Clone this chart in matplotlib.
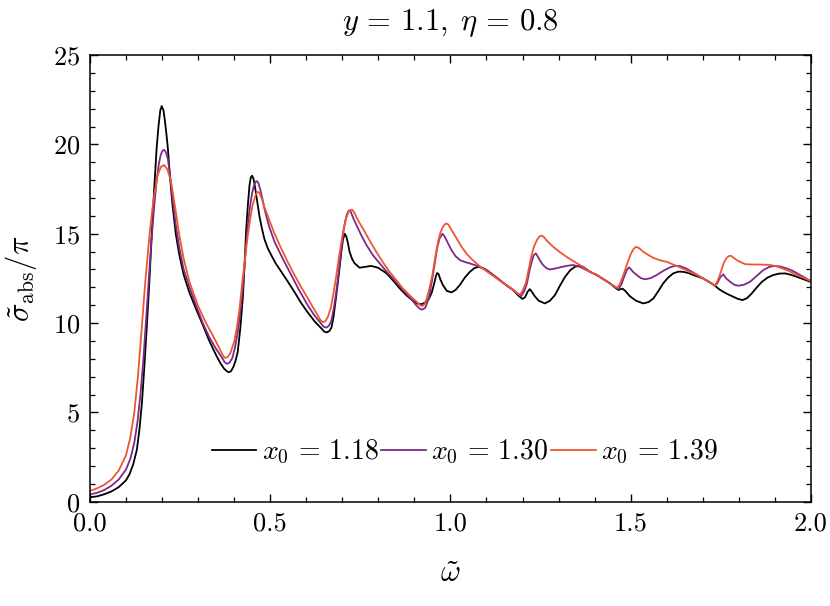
import matplotlib
matplotlib.use("Agg")
import matplotlib.pyplot as plt
from matplotlib.ticker import MultipleLocator, FormatStrFormatter

# ---------------- data: (omega, sigma/pi) ----------------
pts_118 = [(0.0, 0.25), (0.02, 0.3), (0.04, 0.42), (0.06, 0.58), (0.08, 0.82), (0.1, 1.2),
           (0.11, 1.55), (0.12, 2.1), (0.13, 2.9), (0.137, 4.0), (0.144, 5.5), (0.151, 7.6),
           (0.158, 9.9), (0.165, 12.4), (0.172, 15.2), (0.179, 17.8), (0.185, 19.8), (0.19, 21.0),
           (0.195, 21.9), (0.199, 22.15), (0.204, 21.9), (0.208, 21.3), (0.212, 20.6), (0.216, 19.8),
           (0.222, 18.2), (0.229, 16.6), (0.238, 15.0), (0.248, 13.8), (0.26, 12.7), (0.276, 11.7),
           (0.295, 10.75), (0.313, 9.9), (0.33, 9.05), (0.35, 8.2), (0.362, 7.75), (0.372, 7.45),
           (0.38, 7.3), (0.385, 7.25), (0.391, 7.3), (0.398, 7.55), (0.404, 7.9), (0.41, 8.4),
           (0.417, 9.7), (0.424, 11.4), (0.429, 13.3), (0.433, 15.1), (0.438, 16.6), (0.4425, 17.7),
           (0.446, 18.15), (0.45, 18.25), (0.454, 18.05), (0.458, 17.6), (0.464, 16.8), (0.47, 16.0),
           (0.477, 15.3), (0.484, 14.7), (0.493, 14.2), (0.503, 13.8), (0.515, 13.35), (0.53, 12.9),
           (0.548, 12.35), (0.567, 11.75), (0.585, 11.15), (0.604, 10.6), (0.623, 10.1), (0.642, 9.7),
           (0.65, 9.52), (0.657, 9.48), (0.664, 9.55), (0.67, 9.75), (0.676, 10.4), (0.683, 11.5),
           (0.689, 12.5), (0.694, 13.4), (0.698, 14.1), (0.702, 14.7), (0.707, 15.0), (0.711, 14.85),
           (0.716, 14.45), (0.72, 14.0), (0.727, 13.6), (0.734, 13.35), (0.748, 13.1), (0.765, 13.15),
           (0.78, 13.2), (0.799, 13.1), (0.822, 12.8), (0.84, 12.4), (0.859, 11.95), (0.878, 11.55),
           (0.896, 11.25), (0.908, 11.1), (0.919, 11.05), (0.93, 11.15), (0.94, 11.35), (0.948, 11.7),
           (0.956, 12.3), (0.96, 12.65), (0.963, 12.8), (0.967, 12.75), (0.972, 12.45), (0.979, 12.13),
           (0.99, 11.8), (1.003, 11.72), (1.014, 11.85), (1.026, 12.13), (1.04, 12.55), (1.054, 12.87),
           (1.066, 13.07), (1.077, 13.15), (1.088, 13.1), (1.1, 12.97), (1.118, 12.7), (1.137, 12.4),
           (1.155, 12.12), (1.174, 11.85), (1.188, 11.55), (1.2, 11.35), (1.207, 11.45), (1.214, 11.75),
           (1.22, 11.9), (1.226, 11.75), (1.234, 11.5), (1.245, 11.25), (1.262, 11.1), (1.276, 11.25),
           (1.29, 11.57), (1.304, 12.1), (1.318, 12.59), (1.332, 12.95), (1.345, 13.15), (1.357, 13.2),
           (1.368, 13.15), (1.387, 12.87), (1.406, 12.69), (1.425, 12.45), (1.443, 12.22), (1.456, 12.0),
           (1.466, 11.85), (1.472, 11.9), (1.478, 11.92), (1.485, 11.8), (1.498, 11.5), (1.515, 11.25),
           (1.535, 11.1), (1.55, 11.18), (1.563, 11.38), (1.577, 11.8), (1.59, 12.22), (1.604, 12.55),
           (1.618, 12.78), (1.632, 12.88), (1.646, 12.87), (1.66, 12.8), (1.674, 12.69), (1.701, 12.5),
           (1.718, 12.3), (1.734, 12.09), (1.745, 11.9), (1.757, 11.75), (1.771, 11.6), (1.785, 11.47),
           (1.798, 11.35), (1.811, 11.29), (1.823, 11.4), (1.836, 11.66), (1.85, 12.0), (1.864, 12.31),
           (1.88, 12.55), (1.896, 12.69), (1.912, 12.77), (1.929, 12.78), (1.945, 12.7), (1.961, 12.59),
           (1.98, 12.45), (2.0, 12.3)]

pts_130 = [(0.0, 0.41), (0.02, 0.5), (0.04, 0.66), (0.06, 0.9), (0.08, 1.25), (0.1, 1.8),
           (0.112, 2.4), (0.123, 3.3), (0.132, 4.5), (0.14, 6.0), (0.148, 7.9), (0.155, 10.0),
           (0.163, 12.4), (0.17, 14.5), (0.178, 16.5), (0.185, 18.0), (0.191, 18.9), (0.196, 19.4),
           (0.201, 19.65), (0.206, 19.7), (0.211, 19.55), (0.216, 19.2), (0.222, 18.3), (0.229, 17.0),
           (0.238, 15.5), (0.248, 14.2), (0.26, 13.0), (0.276, 12.0), (0.295, 10.95), (0.313, 10.0),
           (0.33, 9.25), (0.35, 8.55), (0.365, 8.1), (0.374, 7.8), (0.38, 7.72), (0.387, 7.78),
           (0.395, 8.05), (0.402, 8.6), (0.41, 9.5), (0.417, 10.6), (0.424, 12.0), (0.43, 13.5),
           (0.435, 14.8), (0.44, 15.9), (0.446, 16.8), (0.45, 17.3), (0.455, 17.7), (0.459, 17.9),
           (0.463, 17.95), (0.467, 17.85), (0.472, 17.5), (0.478, 17.0), (0.484, 16.4), (0.497, 15.4),
           (0.512, 14.55), (0.535, 13.6), (0.558, 12.7), (0.58, 11.85), (0.604, 11.0), (0.622, 10.45),
           (0.64, 10.0), (0.648, 9.8), (0.656, 9.75), (0.663, 9.85), (0.67, 10.15), (0.677, 10.9),
           (0.685, 12.0), (0.692, 13.2), (0.698, 14.3), (0.703, 15.1), (0.708, 15.7), (0.713, 16.1),
           (0.718, 16.3), (0.723, 16.25), (0.728, 16.0), (0.733, 15.75), (0.739, 15.5), (0.753, 14.9),
           (0.767, 14.37), (0.785, 13.8), (0.804, 13.34), (0.822, 12.9), (0.84, 12.5), (0.86, 12.05),
           (0.88, 11.6), (0.893, 11.3), (0.905, 11.0), (0.914, 10.82), (0.921, 10.75), (0.93, 10.85),
           (0.94, 11.4), (0.95, 12.5), (0.957, 13.4), (0.963, 14.2), (0.97, 14.75), (0.978, 15.0),
           (0.984, 14.85), (0.99, 14.6), (1.003, 14.08), (1.014, 13.75), (1.026, 13.53), (1.04, 13.42),
           (1.054, 13.34), (1.067, 13.25), (1.08, 13.15), (1.1, 12.97), (1.118, 12.7), (1.137, 12.4),
           (1.155, 12.12), (1.174, 11.85), (1.186, 11.65), (1.197, 11.53), (1.205, 11.8), (1.212, 12.2),
           (1.219, 12.9), (1.225, 13.4), (1.231, 13.8), (1.237, 13.9), (1.243, 13.7), (1.25, 13.45),
           (1.257, 13.25), (1.266, 13.08), (1.276, 13.0), (1.29, 13.05), (1.304, 13.12), (1.322, 13.2),
           (1.34, 13.25), (1.359, 13.15), (1.387, 12.87), (1.406, 12.69), (1.425, 12.45), (1.443, 12.22),
           (1.456, 12.02), (1.466, 11.9), (1.474, 12.15), (1.482, 12.6), (1.49, 13.0), (1.496, 13.12),
           (1.503, 12.95), (1.51, 12.8), (1.517, 12.69), (1.528, 12.52), (1.54, 12.45), (1.556, 12.52),
           (1.572, 12.69), (1.59, 12.92), (1.609, 13.12), (1.622, 13.2), (1.636, 13.2), (1.655, 13.05),
           (1.674, 12.82), (1.701, 12.5), (1.718, 12.3), (1.734, 12.1), (1.741, 12.25), (1.748, 12.55),
           (1.757, 12.73), (1.765, 12.5), (1.776, 12.31), (1.787, 12.15), (1.799, 12.09), (1.815, 12.15),
           (1.831, 12.31), (1.85, 12.65), (1.868, 12.97), (1.885, 13.15), (1.901, 13.2), (1.917, 13.16),
           (1.933, 13.06), (1.95, 12.92), (1.965, 12.75), (1.983, 12.55), (2.0, 12.35)]

pts_139 = [(0.0, 0.6), (0.02, 0.75), (0.04, 0.95), (0.06, 1.25), (0.08, 1.75), (0.1, 2.6),
           (0.112, 3.6), (0.123, 5.0), (0.133, 7.0), (0.142, 9.3), (0.153, 12.2), (0.165, 14.9),
           (0.176, 16.9), (0.188, 18.3), (0.197, 18.75), (0.206, 18.85), (0.215, 18.6), (0.225, 17.9),
           (0.236, 16.5), (0.248, 14.9), (0.26, 13.6), (0.276, 12.3), (0.3, 10.95), (0.322, 10.0),
           (0.337, 9.45), (0.35, 8.95), (0.362, 8.45), (0.37, 8.15), (0.375, 8.05), (0.382, 8.1),
           (0.39, 8.35), (0.4, 8.95), (0.407, 9.7), (0.415, 10.8), (0.422, 12.2), (0.43, 13.6),
           (0.437, 14.8), (0.445, 15.9), (0.451, 16.6), (0.457, 17.0), (0.461, 17.25), (0.466, 17.35),
           (0.471, 17.25), (0.476, 17.0), (0.484, 16.5), (0.493, 16.0), (0.51, 15.1), (0.53, 14.2),
           (0.548, 13.45), (0.567, 12.7), (0.585, 12.05), (0.604, 11.4), (0.618, 10.9), (0.63, 10.5),
           (0.64, 10.15), (0.646, 10.05), (0.653, 10.1), (0.66, 10.35), (0.668, 10.85), (0.675, 11.6),
           (0.683, 12.6), (0.69, 13.6), (0.698, 14.6), (0.705, 15.4), (0.711, 15.9), (0.717, 16.2),
           (0.722, 16.33), (0.727, 16.35), (0.733, 16.2), (0.74, 15.9), (0.748, 15.6), (0.757, 15.3),
           (0.775, 14.65), (0.794, 14.0), (0.812, 13.42), (0.831, 12.87), (0.85, 12.4), (0.868, 11.94),
           (0.887, 11.55), (0.906, 11.19), (0.915, 11.02), (0.922, 10.95), (0.93, 11.1), (0.94, 11.8),
           (0.95, 12.7), (0.958, 13.7), (0.965, 14.5), (0.972, 15.05), (0.978, 15.35), (0.984, 15.52),
           (0.989, 15.58), (0.995, 15.5), (1.0, 15.3), (1.008, 15.05), (1.017, 14.74), (1.03, 14.3),
           (1.044, 13.9), (1.058, 13.6), (1.072, 13.34), (1.09, 13.05), (1.109, 12.78), (1.132, 12.45),
           (1.156, 12.13), (1.175, 11.85), (1.192, 11.57), (1.2, 11.8), (1.21, 12.3), (1.218, 13.1),
           (1.225, 13.8), (1.232, 14.3), (1.24, 14.65), (1.247, 14.85), (1.253, 14.9), (1.26, 14.8),
           (1.268, 14.6), (1.285, 14.27), (1.303, 13.98), (1.322, 13.71), (1.34, 13.48), (1.359, 13.25),
           (1.387, 12.87), (1.406, 12.69), (1.425, 12.45), (1.443, 12.22), (1.455, 12.06), (1.463, 11.98),
           (1.47, 12.2), (1.48, 12.7), (1.49, 13.3), (1.5, 13.85), (1.508, 14.15), (1.515, 14.27),
           (1.523, 14.2), (1.535, 13.99), (1.55, 13.8), (1.563, 13.65), (1.58, 13.52), (1.6, 13.43),
           (1.627, 13.2), (1.645, 13.05), (1.664, 12.87), (1.683, 12.7), (1.701, 12.5), (1.718, 12.3),
           (1.734, 12.1), (1.742, 12.4), (1.75, 12.85), (1.758, 13.35), (1.765, 13.62), (1.772, 13.75),
           (1.778, 13.77), (1.786, 13.65), (1.794, 13.53), (1.806, 13.4), (1.818, 13.3), (1.835, 13.28),
           (1.85, 13.28), (1.87, 13.27), (1.887, 13.25), (1.9, 13.2), (1.915, 13.1), (1.935, 12.95),
           (1.952, 12.78), (1.975, 12.57), (2.0, 12.35)]

w_118, s_118 = zip(*pts_118)
w_130, s_130 = zip(*pts_130)
w_139, s_139 = zip(*pts_139)

labels = [r"$x_0\,=\,1.18$", r"$x_0\,=\,1.30$", r"$x_0\,=\,1.39$"]
colors = ["#000000", "#7b2a8a", "#ee5630"]

# ---------------- style ----------------
plt.rcParams["font.family"] = "serif"
plt.rcParams["font.serif"] = ["cmr10", "DejaVu Serif"]
plt.rcParams["mathtext.fontset"] = "cm"
plt.rcParams["axes.formatter.use_mathtext"] = True
plt.rcParams["axes.unicode_minus"] = False

fig = plt.figure(figsize=(8.3, 6.06), dpi=100)
ax = fig.add_axes([0.1084, 0.1721, 0.8686, 0.7369])

for w, s, lab, c in zip([w_118, w_130, w_139], [s_118, s_130, s_139], labels, colors):
    ax.plot(w, s, color=c, lw=1.3, label=lab)

ax.set_xlim(0, 2.0)
ax.set_ylim(0, 25)
ax.xaxis.set_major_locator(MultipleLocator(0.5))
ax.xaxis.set_minor_locator(MultipleLocator(0.1))
ax.yaxis.set_major_locator(MultipleLocator(5))
ax.yaxis.set_minor_locator(MultipleLocator(1))
ax.xaxis.set_major_formatter(FormatStrFormatter("%.1f"))
ax.tick_params(which="both", direction="in", top=True, right=True, labelsize=19)
ax.tick_params(which="major", length=6, width=1.0, pad=7)
ax.tick_params(which="minor", length=3.5, width=0.9)
for sp in ax.spines.values():
    sp.set_linewidth(1.1)

ax.set_xlabel(r"$\tilde{\omega}$", fontsize=22, labelpad=18)
ax.set_ylabel(r"$\tilde{\sigma}_{\rm abs}/\pi$", fontsize=22, labelpad=10)
ax.set_title(r"$y\,=\,1.1,\;\eta\,=\,0.8$", fontsize=22, pad=18)

ax.legend(loc="center", bbox_to_anchor=(0.52, 0.111), ncol=3, frameon=False,
          fontsize=20, handlelength=1.6, handletextpad=0.2, columnspacing=0.1,
          borderpad=0.0)

fig.savefig("out.png", dpi=100)
